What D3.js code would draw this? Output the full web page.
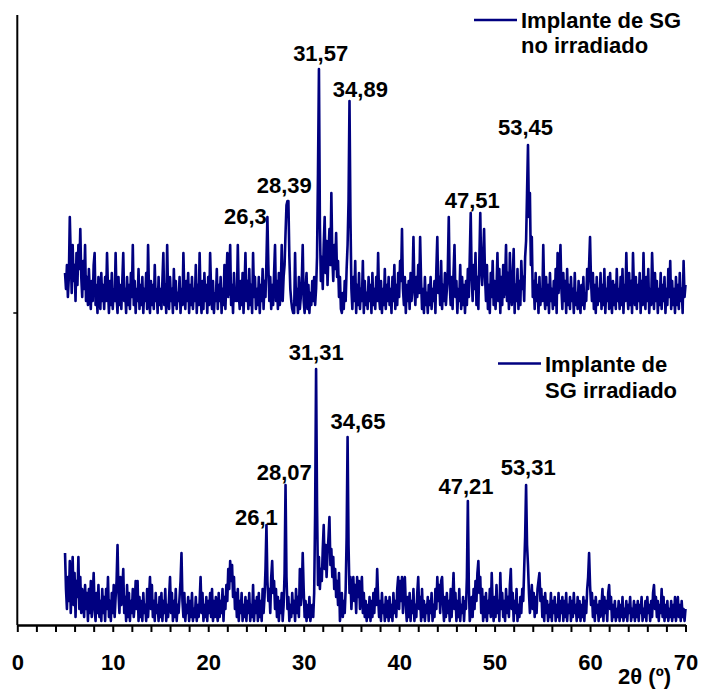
<!DOCTYPE html>
<html>
<head>
<meta charset="utf-8">
<script src="https://cdn.jsdelivr.net/npm/d3@7"></script>
<style>
  html, body { margin: 0; padding: 0; background: #fff; }
  svg { display: block; }
  text { font-family: "Liberation Sans", Arial, Helvetica, sans-serif; font-weight: bold; fill: #000; }
</style>
</head>
<body>
<svg id="chart" width="701" height="690"></svg>
<script>
// ---------------- DATA ----------------
// 2θ scan: 5.0° to 70.0°, step 0.1° (one row = 2°)
const angleStart = 5.0;
const angleStep = 0.1;

// "Implante de SG no irradiado" (intensity above its own baseline)
const seriesNoIrradiado = [
  10, 6, 12, 4, 9, 24, 14, 5, 17, 8, 12, 3, 15, 7, 17, 11, 21, 9, 4, 13,
  6, 17, 3, 9, 2, 11, 5, 1, 8, 3, 12, 15, 2, 7, 0, 9, 4, 1, 10, 3,
  7, 1, 9, 3, 15, 6, 0, 8, 2, 10, 1, 6, 3, 15, 4, 0, 9, 2, 7, 1,
  8, 15, 3, 6, 0, 9, 2, 7, 1, 10, 4, 17, 2, 8, 0, 6, 3, 11, 1, 7,
  2, 9, 0, 6, 3, 10, 1, 17, 5, 0, 8, 2, 7, 1, 12, 3, 6, 0, 9, 2,
  6, 1, 8, 15, 2, 7, 0, 17, 4, 1, 9, 3, 6, 0, 11, 2, 8, 1, 5, 3,
  9, 0, 6, 2, 15, 5, 1, 8, 3, 10, 0, 7, 2, 9, 1, 6, 3, 12, 0, 7,
  2, 15, 4, 0, 8, 1, 10, 3, 7, 0, 9, 2, 15, 6, 1, 8, 0, 5, 3, 11,
  1, 7, 3, 9, 0, 6, 2, 12, 1, 8, 15, 4, 9, 17, 2, 7, 0, 10, 3, 6,
  3, 17, 5, 1, 8, 2, 10, 0, 6, 15, 3, 8, 1, 11, 2, 7, 0, 15, 4, 9,
  1, 6, 2, 9, 0, 7, 3, 11, 1, 8, 4, 13, 24, 12, 3, 9, 1, 7, 2, 10,
  17, 3, 8, 1, 10, 2, 6, 17, 3, 9, 12, 20, 27, 28, 28, 14, 6, 3, 1, 0,
  0, 15, 2, 6, 0, 9, 1, 4, 8, 17, 3, 0, 6, 10, 1, 7, 0, 5, 2, 8,
  3, 9, 2, 6, 14, 35, 61, 22, 8, 14, 6, 17, 24, 10, 18, 7, 15, 21, 12, 30,
  14, 8, 17, 11, 20, 9, 13, 4, 9, 1, 0, 5, 1, 8, 3, 11, 17, 28, 53, 24,
  6, 1, 9, 3, 13, 0, 7, 2, 10, 1, 6, 3, 13, 0, 8, 2, 5, 1, 9, 3,
  7, 0, 10, 2, 6, 1, 9, 3, 15, 4, 1, 8, 0, 6, 2, 11, 1, 7, 3, 9,
  2, 6, 0, 9, 3, 12, 1, 7, 2, 10, 4, 13, 8, 21, 6, 2, 9, 0, 7, 3,
  8, 1, 10, 3, 7, 19, 6, 2, 9, 4, 12, 5, 19, 8, 1, 6, 0, 9, 2, 5,
  0, 7, 2, 9, 1, 6, 3, 8, 0, 11, 19, 5, 9, 2, 13, 1, 7, 3, 10, 2,
  6, 11, 24, 7, 2, 9, 1, 10, 17, 4, 8, 0, 6, 3, 12, 1, 9, 2, 7, 0,
  8, 2, 11, 4, 14, 25, 9, 3, 12, 6, 15, 2, 9, 1, 13, 25, 11, 7, 14, 21,
  9, 3, 12, 1, 7, 0, 10, 4, 13, 2, 8, 1, 6, 15, 3, 11, 0, 9, 2, 12,
  4, 8, 17, 3, 10, 1, 15, 6, 2, 9, 16, 0, 7, 3, 11, 1, 8, 2, 13, 6,
  9, 3, 14, 18, 30, 42, 24, 30, 12, 19, 4, 8, 1, 10, 3, 7, 0, 9, 2, 6,
  3, 17, 5, 1, 9, 2, 7, 0, 10, 3, 6, 1, 8, 2, 11, 0, 15, 5, 9, 17,
  6, 1, 10, 3, 8, 0, 11, 2, 7, 1, 9, 3, 6, 0, 10, 2, 5, 1, 8, 3,
  0, 7, 2, 9, 1, 5, 3, 11, 6, 12, 19, 8, 3, 10, 1, 7, 0, 9, 2, 6,
  3, 10, 1, 7, 2, 11, 0, 6, 3, 9, 1, 10, 4, 0, 8, 2, 7, 1, 11, 3,
  6, 1, 9, 2, 11, 0, 7, 3, 15, 5, 1, 10, 2, 8, 0, 15, 6, 2, 9, 1,
  7, 3, 10, 0, 8, 2, 15, 4, 1, 9, 3, 11, 0, 6, 2, 15, 7, 1, 10, 3,
  8, 0, 6, 2, 10, 1, 7, 3, 9, 0, 6, 2, 11, 4, 13, 1, 8, 2, 6, 0,
  9, 2, 7, 1, 10, 3, 6, 0, 13, 4, 7
];

// "Implante de SG irradiado"
const seriesIrradiado = [
  18, 9, 4, 12, 6, 16, 3, 10, 17, 5, 13, 2, 11, 7, 17, 4, 12, 3, 9, 6,
  2, 10, 4, 8, 1, 9, 3, 11, 2, 7, 13, 4, 1, 8, 3, 10, 2, 6, 1, 9,
  3, 7, 1, 9, 4, 12, 2, 6, 1, 8, 3, 10, 2, 7, 11, 20, 8, 3, 12, 5,
  9, 14, 3, 7, 1, 10, 2, 8, 1, 6, 3, 9, 2, 5, 11, 4, 11, 1, 7, 2,
  6, 1, 8, 3, 5, 1, 9, 2, 7, 12, 4, 10, 2, 6, 1, 8, 3, 5, 1, 7,
  2, 8, 1, 6, 3, 9, 1, 5, 2, 7, 12, 3, 8, 1, 6, 2, 9, 1, 5, 3,
  7, 11, 18, 6, 2, 8, 1, 5, 3, 7, 1, 6, 2, 8, 1, 4, 2, 7, 1, 5,
  2, 6, 12, 3, 8, 1, 5, 2, 7, 1, 6, 3, 8, 2, 9, 1, 6, 2, 7, 3,
  1, 8, 2, 6, 3, 9, 1, 7, 4, 10, 6, 14, 9, 16, 11, 15, 7, 12, 4, 8,
  2, 9, 1, 6, 3, 8, 1, 5, 2, 7, 1, 6, 3, 8, 1, 5, 2, 10, 1, 6,
  3, 7, 1, 8, 2, 6, 1, 9, 3, 7, 14, 25, 11, 6, 9, 3, 12, 16, 8, 11,
  4, 9, 2, 7, 1, 6, 3, 8, 1, 5, 13, 35, 12, 4, 7, 1, 5, 2, 8, 3,
  6, 1, 9, 3, 7, 2, 14, 5, 8, 18, 9, 2, 6, 1, 5, 2, 7, 1, 3, 5,
  2, 8, 28, 64, 30, 10, 17, 9, 14, 11, 19, 25, 14, 20, 12, 18, 22, 27, 15, 19,
  12, 17, 9, 14, 7, 11, 5, 13, 1, 4, 8, 2, 6, 3, 9, 22, 47, 20, 8, 12,
  4, 9, 12, 6, 10, 3, 12, 7, 11, 4, 9, 12, 3, 8, 2, 6, 1, 5, 2, 7,
  1, 6, 2, 8, 3, 9, 5, 14, 7, 2, 6, 1, 8, 3, 5, 1, 7, 2, 6, 1,
  7, 2, 5, 1, 8, 3, 6, 2, 9, 12, 4, 11, 6, 12, 3, 10, 12, 5, 1, 7,
  2, 8, 1, 6, 3, 9, 1, 5, 2, 8, 12, 4, 7, 1, 9, 2, 6, 1, 5, 3,
  7, 1, 6, 3, 8, 1, 5, 2, 9, 4, 12, 6, 10, 3, 11, 12, 5, 1, 7, 2,
  8, 3, 6, 1, 9, 2, 7, 13, 4, 8, 1, 6, 2, 9, 1, 5, 3, 7, 1, 6,
  4, 12, 31, 10, 1, 3, 7, 2, 9, 4, 11, 6, 13, 16, 8, 12, 3, 9, 1, 7,
  2, 8, 1, 6, 3, 9, 2, 13, 5, 1, 7, 2, 10, 3, 6, 1, 13, 4, 8, 2,
  6, 1, 9, 3, 7, 2, 10, 14, 4, 8, 1, 6, 3, 9, 1, 5, 2, 7, 3, 9,
  6, 14, 22, 35, 20, 15, 8, 3, 6, 10, 4, 8, 2, 7, 3, 9, 11, 13, 6, 9,
  2, 7, 1, 8, 3, 6, 1, 5, 2, 8, 1, 6, 3, 7, 1, 5, 2, 8, 1, 6,
  3, 7, 1, 6, 2, 8, 1, 5, 3, 7, 1, 6, 2, 8, 3, 5, 1, 7, 2, 6,
  1, 5, 2, 7, 1, 6, 3, 9, 12, 18, 10, 5, 8, 2, 6, 1, 7, 3, 5, 1,
  6, 2, 5, 9, 1, 7, 3, 6, 1, 8, 10, 4, 7, 1, 5, 2, 6, 1, 4, 2,
  6, 1, 5, 2, 7, 1, 4, 2, 6, 1, 5, 3, 7, 1, 4, 2, 6, 1, 5, 2,
  6, 1, 5, 3, 7, 1, 4, 2, 6, 1, 7, 3, 5, 1, 6, 2, 8, 10, 4, 7,
  2, 6, 1, 5, 3, 9, 2, 7, 1, 5, 2, 6, 1, 4, 2, 6, 1, 5, 2, 7,
  1, 4, 7, 2, 5, 1, 6, 2, 4, 1, 4
];

// Peak annotations (2θ of labelled reflections)
const peaksNoIrradiado = [26.3, 28.39, 31.57, 34.89, 47.51, 53.45];
const peakLabelsNoIrradiado = ["26,3", "28,39", "31,57", "34,89", "47,51", "53,45"];
const peaksIrradiado = [26.1, 28.07, 31.31, 34.65, 47.21, 53.31];
const peakLabelsIrradiado = ["26,1", "28,07", "31,31", "34,65", "47,21", "53,31"];

const xTicks = [0, 10, 20, 30, 40, 50, 60, 70];
const xLabel = "2θ (º)";
const legendNoIrradiado = ["Implante de SG", "no irradiado"];
const legendIrradiado = ["Implante de", "SG irradiado"];

// ---------------- LAYOUT / STYLE ----------------
const upperOffset = 78;          // vertical stacking offset of the upper pattern
const lineColor = "#000080";
const fontSize = "22px";
// label placement offsets [dx, dy] relative to the labelled peak top
const labelOffsetsNoIrr = [[-23, 7], [-4, -8], [2, -8], [10, -4], [1.5, -5], [-2, -10]];
const labelOffsetsIrr   = [[-10, 0], [-1, -5], [0, -9], [10, -8], [-2, -7], [2, -10]];

const svg = d3.select("#chart");
const x = d3.scaleLinear().domain([0, 70]).range([17.3, 685.5]);
const y = d3.scaleLinear().domain([0, 152.5]).range([625, 15]);

const angleOf = i => angleStart + angleStep * i;
const upperData = seriesNoIrradiado.map((v, i) => ({ a: angleOf(i), v: v + upperOffset }));
const lowerData = seriesIrradiado.map((v, i) => ({ a: angleOf(i), v: v }));

const line = d3.line().x(d => x(d.a)).y(d => y(d.v));

[upperData, lowerData].forEach(data => {
  svg.append("path").datum(data)
    .attr("d", line).attr("fill", "none")
    .attr("stroke", lineColor).attr("stroke-width", 2.6).attr("stroke-linejoin", "round");
});

// Y axis (no labels)
svg.append("line")
  .attr("x1", x(0)).attr("x2", x(0))
  .attr("y1", y(152.5)).attr("y2", y(0))
  .attr("stroke", "#000").attr("stroke-width", 2);
svg.append("line")
  .attr("x1", x(0) - 4).attr("x2", x(0))
  .attr("y1", y(upperOffset)).attr("y2", y(upperOffset))
  .attr("stroke", "#000").attr("stroke-width", 1.5);

// X axis
const xAxis = d3.axisBottom(x)
  .tickValues(d3.range(0, 71, 2))
  .tickSize(7)
  .tickSizeOuter(0)
  .tickFormat(d => xTicks.includes(d) ? String(d) : "");
const gx = svg.append("g").attr("transform", `translate(0,${y(0)})`).call(xAxis);
gx.select(".domain").attr("stroke", "#000").attr("stroke-width", 2.5);
gx.selectAll(".tick line").attr("stroke", "#000").attr("stroke-width", 2);
gx.selectAll(".tick text")
  .attr("y", 45).attr("dy", 0)
  .style("font-family", "'Liberation Sans', Arial, sans-serif")
  .style("font-weight", "bold").style("font-size", fontSize).attr("fill", "#000");

svg.append("text")
  .attr("x", 671).attr("y", 684)
  .attr("text-anchor", "end")
  .style("font-size", fontSize)
  .text(xLabel);

// Peak labels
function peakValue(data, angle) {
  let m = -Infinity;
  data.forEach(d => { if (Math.abs(d.a - angle) <= 0.21 && d.v > m) m = d.v; });
  return m;
}
function drawLabels(data, peaks, labels, offsets) {
  peaks.forEach((p, i) => {
    svg.append("text")
      .attr("x", x(p) + offsets[i][0])
      .attr("y", y(peakValue(data, p)) + offsets[i][1])
      .attr("text-anchor", "middle")
      .style("font-size", fontSize)
      .text(labels[i]);
  });
}
drawLabels(upperData, peaksNoIrradiado, peakLabelsNoIrradiado, labelOffsetsNoIrr);
drawLabels(lowerData, peaksIrradiado, peakLabelsIrradiado, labelOffsetsIrr);

// Legends
function legend(x1, x2, ly, tx, lines, lh) {
  svg.append("line").attr("x1", x1).attr("x2", x2).attr("y1", ly).attr("y2", ly)
    .attr("stroke", lineColor).attr("stroke-width", 2.5);
  lines.forEach((t, i) => {
    svg.append("text").attr("x", tx).attr("y", ly + 8 + i * lh)
      .style("font-size", fontSize).text(t);
  });
}
legend(474, 517, 20, 521, legendNoIrradiado, 25);
legend(498, 541, 363.5, 545, legendIrradiado, 26.5);
</script>
</body>
</html>
